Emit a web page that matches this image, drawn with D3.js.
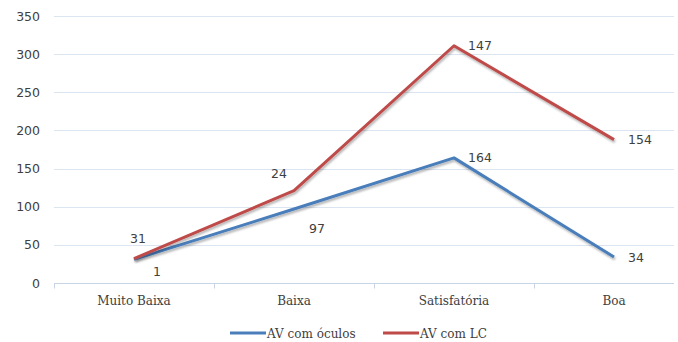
<!DOCTYPE html>
<html>
<head>
<meta charset="utf-8">
<script src="https://cdn.jsdelivr.net/npm/d3@7"></script>
<style>
  body { margin: 0; background: #fff; }
</style>
</head>
<body>
<script>
// DATA
const categories = ["Muito Baixa", "Baixa", "Satisfatória", "Boa"];
const seriesNames = ["AV com óculos", "AV com LC"];
const oculos = [31, 97, 164, 34];
const lc = [1, 24, 147, 154];   // stacked on top of oculos
const yTicks = [0, 50, 100, 150, 200, 250, 300, 350];

// LAYOUT
const WIDTH = 678;
const HEIGHT = 342;
const colors = ["#4a7ebb", "#be4b48"];
// label offsets [dx, dy] per point, in the order of categories
const oculosLabelOffset = [[4, -21], [23, 19], [26, 0], [22, 0]];
const lcLabelOffset = [[23, 13], [-15, -17], [26, 0], [26, 0]];

const svg = d3.select("body").append("svg").attr("width", WIDTH).attr("height", HEIGHT);

const defs = svg.append("defs");
const filter = defs.append("filter").attr("id", "shadow")
  .attr("x", "-10%").attr("y", "-10%").attr("width", "120%").attr("height", "130%");
filter.append("feDropShadow")
  .attr("dx", 1).attr("dy", 2).attr("stdDeviation", 1.2)
  .attr("flood-color", "#000").attr("flood-opacity", 0.3);

// SCALES
const x = d3.scaleBand().domain(categories).range([54, 694]);
const y = d3.scaleLinear().domain([0, 350]).range([283, 16]);

// GRID
svg.append("g")
  .selectAll("line")
  .data(yTicks.filter(d => d > 0))
  .enter()
  .append("line")
  .attr("x1", 54).attr("x2", 674)
  .attr("y1", d => Math.round(y(d)) + 0.5).attr("y2", d => Math.round(y(d)) + 0.5)
  .attr("stroke", "#dbe5f1").attr("stroke-width", 1);

// Y AXIS LABELS
svg.append("g")
  .selectAll("text")
  .data(yTicks)
  .enter()
  .append("text")
  .attr("x", 40)
  .attr("y", d => y(d) + 4.5)
  .attr("text-anchor", "end")
  .attr("font-family", "DejaVu Sans, Verdana, sans-serif")
  .attr("font-size", 12.5)
  .attr("fill", "#404040")
  .text(d => d);

// X AXIS
const xAxis = svg.append("g").attr("transform", `translate(0,${Math.round(y(0)) + 0.5})`);
xAxis.append("line").attr("x1", 54).attr("x2", 674).attr("stroke", "#c6d4e6");
xAxis.selectAll(".tk")
  .data(categories)
  .enter()
  .append("line")
  .attr("class", "tk")
  .attr("x1", d => x(d) + 0.5).attr("x2", d => x(d) + 0.5)
  .attr("y1", 0).attr("y2", 5)
  .attr("stroke", "#c6d4e6");
xAxis.selectAll("text")
  .data(categories)
  .enter()
  .append("text")
  .attr("x", d => x(d) + x.bandwidth() / 2)
  .attr("y", 21)
  .attr("text-anchor", "middle")
  .attr("font-family", "DejaVu Serif, serif")
  .attr("font-size", 12)
  .attr("fill", "#404040")
  .text(d => d);

// LINES
const cx = d => x(d) + x.bandwidth() / 2;
const stacked = lc.map((v, i) => v + oculos[i]);
const line = d3.line().x(d => cx(d.cat)).y(d => y(d.value));

const seriesData = [
  { name: seriesNames[0], values: categories.map((c, i) => ({ cat: c, value: oculos[i], label: oculos[i], off: oculosLabelOffset[i] })) },
  { name: seriesNames[1], values: categories.map((c, i) => ({ cat: c, value: stacked[i], label: lc[i], off: lcLabelOffset[i] })) }
];

svg.append("g")
  .selectAll("path")
  .data(seriesData)
  .enter()
  .append("path")
  .attr("d", d => line(d.values))
  .attr("fill", "none")
  .attr("stroke", (d, i) => colors[i])
  .attr("stroke-width", 3)
  .attr("stroke-linejoin", "round")
  .attr("filter", "url(#shadow)");

// DATA LABELS
svg.append("g")
  .selectAll("g")
  .data(seriesData)
  .enter()
  .append("g")
  .selectAll("text")
  .data(d => d.values)
  .enter()
  .append("text")
  .attr("x", d => cx(d.cat) + d.off[0])
  .attr("y", d => y(d.value) + d.off[1] + 4.5)
  .attr("text-anchor", "middle")
  .attr("font-family", "DejaVu Sans, Verdana, sans-serif")
  .attr("font-size", 12.5)
  .attr("fill", "#404040")
  .text(d => d.label);

// LEGEND
const legend = svg.append("g").attr("transform", "translate(0,333)");
const legendX = [230, 383];
seriesNames.forEach((name, i) => {
  legend.append("line")
    .attr("x1", legendX[i]).attr("x2", legendX[i] + 36)
    .attr("y1", 0).attr("y2", 0)
    .attr("stroke", colors[i]).attr("stroke-width", 3);
  legend.append("text")
    .attr("x", legendX[i] + 37)
    .attr("y", 4.5)
    .attr("font-family", "DejaVu Serif, serif")
    .attr("font-size", 12)
    .attr("fill", "#404040")
    .text(name);
});
</script>
</body>
</html>
